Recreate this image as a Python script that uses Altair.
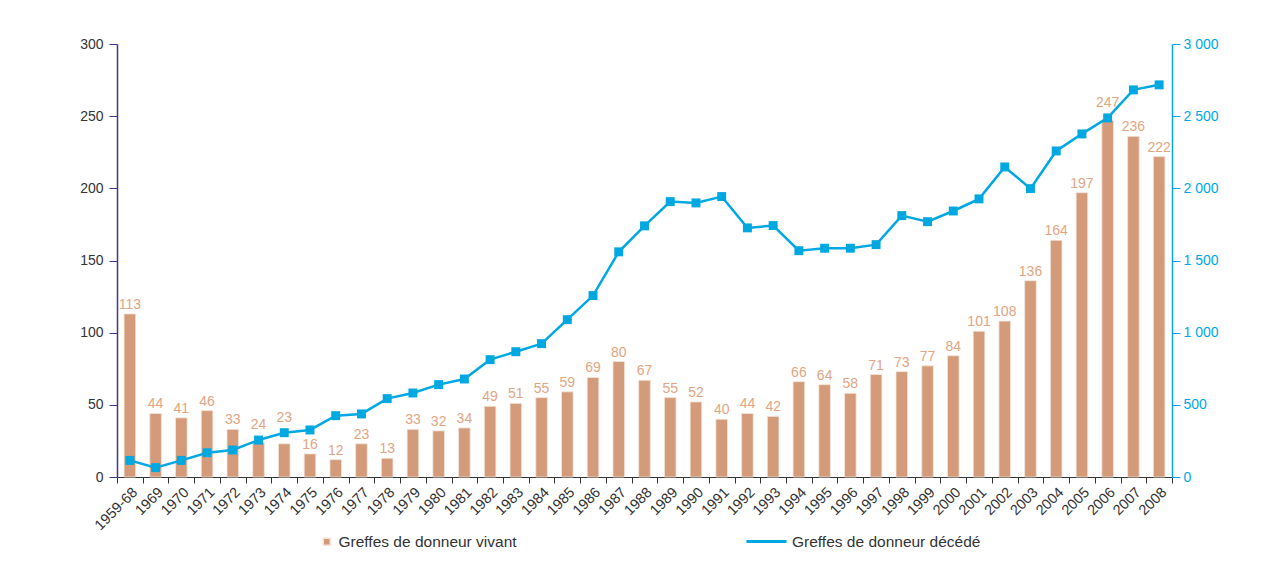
import altair as alt
import pandas as pd

years = ["1959-68"] + [str(y) for y in range(1969, 2009)]
vivant = [113, 44, 41, 46, 33, 24, 23, 16, 12, 23, 13, 33, 32, 34, 49, 51, 55, 59, 69, 80,
          67, 55, 52, 40, 44, 42, 66, 64, 58, 71, 73, 77, 84, 101, 108, 136, 164, 197, 247, 236, 222]
decede = [115, 65, 115, 168, 187, 256, 307, 326, 425, 437, 543, 582, 640, 679, 813, 868, 924,
          1090, 1257, 1560, 1740, 1908, 1899, 1943, 1726, 1742, 1568, 1585, 1585, 1610, 1811,
          1769, 1843, 1927, 2148, 1998, 2259, 2377, 2488, 2682, 2717]

lab_viv = "Greffes de donneur vivant"
lab_dec = "Greffes de donneur décédé"

df = pd.DataFrame({"annee": years, "vivant": vivant, "decede": decede,
                   "s_viv": lab_viv, "s_dec": lab_dec})

BAR = "#D39B7A"
BARTXT = "#E2A582"
LINE = "#00A8E2"
NAVY = "#3C3A8C"
FONT = "Liberation Sans"

x = alt.X("annee:N", sort=years, title=None,
          scale=alt.Scale(paddingInner=0, paddingOuter=0),
          axis=alt.Axis(labelAngle=-45, labelFontSize=14.5, labelColor="#333333",
                        labelFont=FONT, tickBand="extent", tickSize=6,
                        tickColor="#333333", domainColor="#333333", labelPadding=2))

left_y = alt.Y("vivant:Q", title=None,
               scale=alt.Scale(domain=[0, 300]),
               axis=alt.Axis(values=[0, 50, 100, 150, 200, 250, 300], grid=False,
                             domainColor=NAVY, tickColor=NAVY, tickSize=8,
                             labelColor="#333333", labelFontSize=14, labelFont=FONT,
                             labelPadding=6, domainWidth=1.5))

bars = alt.Chart(df).mark_bar(width=alt.RelativeBandSize(0.45), stroke="#F3E4DA",
                              strokeWidth=0.8).encode(
    x=x,
    y=left_y,
    color=alt.Color("s_viv:N", title=None,
                    scale=alt.Scale(domain=[lab_viv], range=[BAR]),
                    legend=alt.Legend(orient="none", legendX=202, legendY=490,
                                      symbolType="square", symbolSize=50,
                                      labelFontSize=15.5, labelColor="#333333",
                                      labelFont=FONT, labelOffset=4, labelLimit=400)),
)

# value labels: lifted above the line marker where the two would collide
texts = alt.Chart(df).transform_calculate(
    ly="(datum.decede / 10 > datum.vivant - 3 && datum.decede / 10 < datum.vivant + 12)"
       " ? datum.decede / 10 + 4.2 : datum.vivant"
).mark_text(dy=-2, fontSize=14, color=BARTXT, font=FONT, baseline="bottom").encode(
    x=alt.X("annee:N", sort=years),
    y=alt.Y("ly:Q", scale=alt.Scale(domain=[0, 300]), axis=None),
    text="vivant:Q",
)

right_y = alt.Y("decede:Q", title=None,
                scale=alt.Scale(domain=[0, 3000]),
                axis=alt.Axis(orient="right", values=[0, 500, 1000, 1500, 2000, 2500, 3000],
                              grid=False, domainColor=LINE, tickColor=LINE, tickSize=8,
                              labelColor=LINE, labelFontSize=14, labelFont=FONT,
                              labelPadding=3, domainWidth=1.5,
                              labelExpr="replace(format(datum.value, ','), ',', ' ')"))

line = alt.Chart(df).mark_line(strokeWidth=2.5).encode(
    x=alt.X("annee:N", sort=years),
    y=right_y,
    stroke=alt.Stroke("s_dec:N", title=None,
                      scale=alt.Scale(domain=[lab_dec], range=[LINE]),
                      legend=alt.Legend(orient="none", legendX=628, legendY=476,
                                        symbolType="stroke", symbolSize=1600,
                                        symbolStrokeWidth=3,
                                        labelFontSize=15.5, labelColor="#333333",
                                        labelFont=FONT, labelOffset=4, labelLimit=400)),
)

pts = alt.Chart(df).mark_point(shape="square", filled=True, size=80, color=LINE,
                               opacity=1).encode(
    x=alt.X("annee:N", sort=years),
    y=right_y,
)

right = alt.layer(line, pts)

chart = alt.layer(bars, right, texts).resolve_scale(y="independent").properties(
    width=1055, height=433,
    autosize=alt.AutoSizeParams(type="none"),
    padding={"left": 109, "top": 36, "right": 100, "bottom": 80},
).configure(font=FONT).configure_view(stroke=None)

chart.save("out.html", embed_options={"renderer": "svg", "actions": False})
